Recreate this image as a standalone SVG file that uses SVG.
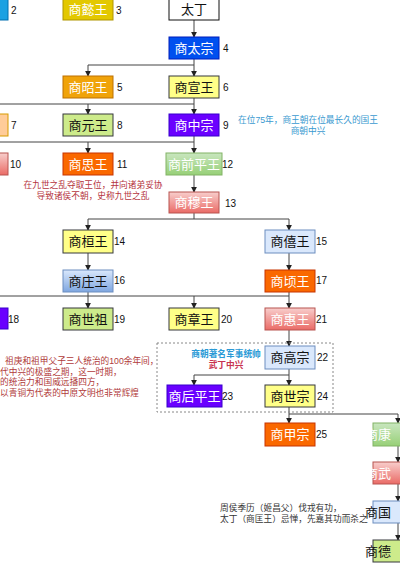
<svg xmlns="http://www.w3.org/2000/svg" width="400" height="566" viewBox="0 0 400 566">
<defs>
<linearGradient id="gGreen" x1="0" y1="0" x2="0" y2="1"><stop offset="0" stop-color="#C9E6BF"/><stop offset="1" stop-color="#97D077"/></linearGradient>
<linearGradient id="gRed" x1="0" y1="0" x2="0" y2="1"><stop offset="0" stop-color="#F8CECC"/><stop offset="1" stop-color="#EA6B66"/></linearGradient>
<linearGradient id="gBlue" x1="0" y1="0" x2="0" y2="1"><stop offset="0" stop-color="#DAE8FC"/><stop offset="1" stop-color="#7EA6E0"/></linearGradient>
<marker id="arr" viewBox="0 0 8 8" refX="7" refY="4" markerWidth="6" markerHeight="6" orient="auto" markerUnits="userSpaceOnUse"><path d="M0,0 L8,4 L0,8 Z" fill="#222"/></marker>
<style>
.n{font-family:"Liberation Sans","Noto Sans CJK SC",sans-serif;font-size:13px;text-anchor:middle}
.w{fill:#fff}.b{fill:#111}
.num{font-family:"Liberation Sans",Arial,sans-serif;font-size:10px;fill:#111}
.ann{font-family:"Liberation Sans","Noto Sans CJK SC",sans-serif;font-size:8.7px}
.c{fill:none;stroke:#444;stroke-width:1}
.ca{fill:none;stroke:#444;stroke-width:1;marker-end:url(#arr)}
</style>
</defs>

<g id="connectors">
<path class="ca" d="M194,20 V37"/>
<path class="ca" d="M194,59 V76"/>
<path class="ca" d="M194,65 H88 V76"/>
<path class="ca" d="M194,98 V114"/>
<path class="ca" d="M194,104 H88 V114"/>
<path class="c" d="M88,104 H0"/>
<path class="ca" d="M194,136 V153"/>
<path class="ca" d="M194,142 H88 V153"/>
<path class="c" d="M88,142 H0"/>
<path class="ca" d="M194,175 V192"/>
<path class="ca" d="M194,213 V219 H88 V230"/>
<path class="ca" d="M194,219 H289 V230"/>
<path class="ca" d="M88,253 V270"/>
<path class="ca" d="M289,253 V270"/>
<path class="ca" d="M88,292 V308"/>
<path class="c" d="M0,296 H289"/>
<path class="ca" d="M194,296 V308"/>
<path class="ca" d="M289,292 V308"/>
<path class="ca" d="M289,330 V346"/>
<path class="ca" d="M289,369 V385"/>
<path class="ca" d="M289,375 H194 V385"/>
<path class="ca" d="M289,407 V423"/>
<path class="ca" d="M289,414 H398 V423"/>
<path class="ca" d="M398,446 V462"/>
<path class="ca" d="M398,484 V501"/>
<path class="ca" d="M398,523 V540"/>
</g>

<rect id="group-box" x="157" y="343" width="176" height="69" fill="none" stroke="#888" stroke-width="1" stroke-dasharray="2,2"/>

<g id="n2"><rect x="-42" y="-2" width="50" height="22" fill="#1BA1E2" stroke="#006EAF"/><text class="num" x="11" y="14">2</text></g>
<g id="n3"><rect x="63" y="-2" width="50" height="22" fill="#E3C800" stroke="#B09500"/><text class="n w" x="88" y="14">商懿王</text><text class="num" x="116" y="14">3</text></g>
<g id="n-taiding"><rect x="169" y="-2" width="50" height="22" fill="#fff" stroke="#111"/><text class="n b" x="194" y="14">太丁</text></g>
<g id="n4"><rect x="169" y="37" width="50" height="22" fill="#0050EF" stroke="#001DBC"/><text class="n w" x="194" y="53">商太宗</text><text class="num" x="223" y="52">4</text></g>
<g id="n5"><rect x="63" y="76" width="50" height="22" fill="#F0A30A" stroke="#BD7000"/><text class="n w" x="88" y="92">商昭王</text><text class="num" x="117" y="91">5</text></g>
<g id="n6"><rect x="169" y="76" width="50" height="22" fill="#FFFF88" stroke="#36393D"/><text class="n b" x="194" y="92">商宣王</text><text class="num" x="223" y="91">6</text></g>
<g id="n7"><rect x="-42" y="114" width="50" height="22" fill="#FFCC99" stroke="#D79B00"/><text class="num" x="11" y="129">7</text></g>
<g id="n8"><rect x="63" y="114" width="50" height="22" fill="#CDEB8B" stroke="#36393D"/><text class="n b" x="88" y="130">商元王</text><text class="num" x="117" y="129">8</text></g>
<g id="n9"><rect x="169" y="114" width="50" height="22" fill="#6A00FF" stroke="#3700CC"/><text class="n w" x="194" y="130">商中宗</text><text class="num" x="223" y="129">9</text></g>
<g id="note9"><text class="ann" fill="#3A9AD0" text-anchor="middle" x="308" y="123">在位75年，商王朝在位最长久的国王</text><text class="ann" fill="#3A9AD0" text-anchor="middle" x="308" y="134">商朝中兴</text></g>
<g id="n10"><rect x="-42" y="153" width="50" height="22" fill="url(#gRed)" stroke="#B85450"/><text class="num" x="10" y="168">10</text></g>
<g id="n11"><rect x="63" y="153" width="50" height="22" fill="#FA6800" stroke="#C73500"/><text class="n w" x="88" y="169">商思王</text><text class="num" x="117" y="168">11</text></g>
<g id="note11"><text class="ann" fill="#B5343E" text-anchor="middle" x="93" y="188">在九世之乱夺取王位，并向诸弟妥协</text><text class="ann" fill="#B5343E" text-anchor="middle" x="93" y="199">导致诸侯不朝，史称九世之乱</text></g>
<g id="n12"><rect x="166" y="153" width="56" height="22" fill="url(#gGreen)" stroke="#82B366"/><text class="n w" x="194" y="169">商前平王</text><text class="num" x="222" y="168">12</text></g>
<g id="n13"><rect x="169" y="192" width="50" height="21" fill="url(#gRed)" stroke="#B85450"/><text class="n w" x="194" y="207">商穆王</text><text class="num" x="225" y="207">13</text></g>
<g id="n14"><rect x="63" y="230" width="50" height="23" fill="#FFFF88" stroke="#36393D"/><text class="n b" x="88" y="246">商桓王</text><text class="num" x="114" y="245">14</text></g>
<g id="n15"><rect x="265" y="230" width="50" height="23" fill="#DAE8FC" stroke="#6C8EBF"/><text class="n b" x="290" y="246">商僖王</text><text class="num" x="316" y="245">15</text></g>
<g id="n16"><rect x="63" y="270" width="50" height="22" fill="url(#gBlue)" stroke="#6C8EBF"/><text class="n b" x="88" y="286">商庄王</text><text class="num" x="114" y="284">16</text></g>
<g id="n17"><rect x="265" y="270" width="50" height="22" fill="#FA6800" stroke="#C73500"/><text class="n w" x="290" y="286">商顷王</text><text class="num" x="316" y="284">17</text></g>
<g id="n18"><rect x="-42" y="308" width="50" height="21" fill="#6A00FF" stroke="#3700CC"/><text class="num" x="8" y="323">18</text></g>
<g id="n19"><rect x="63" y="308" width="50" height="22" fill="#CDEB8B" stroke="#36393D"/><text class="n b" x="88" y="324">商世祖</text><text class="num" x="114" y="323">19</text></g>
<g id="n20"><rect x="169" y="308" width="50" height="22" fill="#FFFF88" stroke="#36393D"/><text class="n b" x="194" y="324">商章王</text><text class="num" x="221" y="323">20</text></g>
<g id="n21"><rect x="265" y="308" width="50" height="22" fill="url(#gRed)" stroke="#B85450"/><text class="n w" x="290" y="324">商惠王</text><text class="num" x="316" y="323">21</text></g>
<g id="note-wuding"><text class="ann" fill="#B03A3A" x="5" y="364">祖庚和祖甲父子三人统治的100余年间，</text><text class="ann" fill="#B03A3A" x="0" y="375">代中兴的极盛之期，这一时期，</text><text class="ann" fill="#B03A3A" x="0" y="385">的统治力和国威远播四方，</text><text class="ann" fill="#B03A3A" x="0" y="396">以青铜为代表的中原文明也非常辉煌</text></g>
<g id="note22"><text class="ann" fill="#2A9AD6" font-weight="bold" text-anchor="middle" x="226" y="357">商朝著名军事统帅</text><text class="ann" fill="#C8334F" font-weight="bold" text-anchor="middle" x="226" y="368">武丁中兴</text></g>
<g id="n22"><rect x="265" y="346" width="50" height="23" fill="#DAE8FC" stroke="#6C8EBF"/><text class="n b" x="290" y="362">商高宗</text><text class="num" x="317" y="361">22</text></g>
<g id="n23"><rect x="167" y="385" width="55" height="22" fill="#6A00FF" stroke="#3700CC"/><text class="n w" x="194.5" y="401">商后平王</text><text class="num" x="222" y="400">23</text></g>
<g id="n24"><rect x="265" y="385" width="50" height="22" fill="#FFFF88" stroke="#36393D"/><text class="n b" x="290" y="401">商世宗</text><text class="num" x="317" y="400">24</text></g>
<g id="n25"><rect x="265" y="423" width="50" height="23" fill="#FA6800" stroke="#C73500"/><text class="n w" x="290" y="439">商甲宗</text><text class="num" x="316" y="438">25</text></g>
<g id="n-kang"><rect x="373" y="423" width="50" height="23" fill="url(#gGreen)" stroke="#82B366"/><text class="n w" x="378" y="439" text-anchor="start">商康</text></g>
<g id="n-wu"><rect x="373" y="462" width="50" height="22" fill="url(#gRed)" stroke="#B85450"/><text class="n w" x="378" y="478" text-anchor="start">商武</text></g>
<g id="n-guo"><rect x="373" y="501" width="50" height="22" fill="#DAE8FC" stroke="#6C8EBF"/><text class="n b" x="378" y="517" text-anchor="start">商国</text></g>
<g id="n-de"><rect x="373" y="540" width="50" height="22" fill="#CDEB8B" stroke="#36393D"/><text class="n b" x="378" y="556" text-anchor="start">商德</text></g>
<g id="note-jili"><text class="ann" fill="#333" x="220" y="511">周侯季历（姬昌父）伐戎有功，</text><text class="ann" fill="#333" x="220" y="522">太丁（商匡王）忌惮，先嘉其功而杀之</text></g>
</svg>
